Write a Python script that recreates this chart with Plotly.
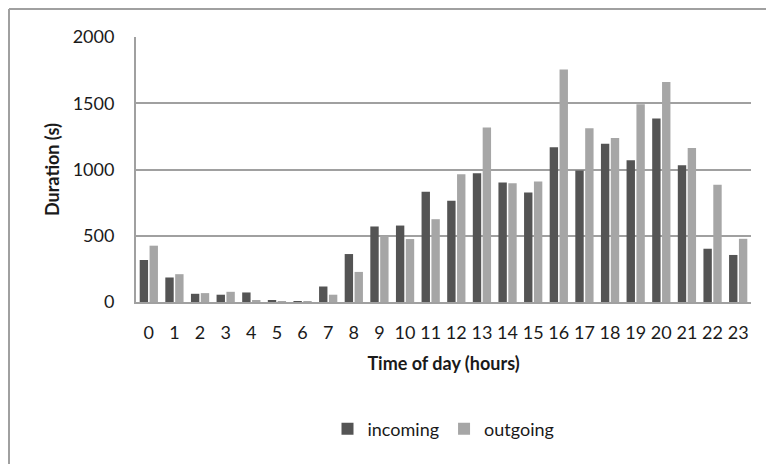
import plotly.graph_objects as go

hours = [str(h) for h in range(24)]
incoming = [317, 185, 62, 55, 72, 10, 7, 117, 362, 570, 577, 832, 765, 972, 902, 827,
            1167, 992, 1195, 1070, 1385, 1032, 402, 355]
outgoing = [425, 210, 67, 77, 15, 7, 5, 55, 227, 497, 475, 625, 965, 1317, 897, 910,
            1755, 1312, 1237, 1492, 1660, 1162, 885, 477]
y_ticks = [0, 500, 1000, 1500, 2000]

FONT = "Lato"

fig = go.Figure()
fig.add_trace(go.Bar(x=hours, y=incoming, name="incoming",
                     marker=dict(color="#545454", line=dict(width=0))))
fig.add_trace(go.Bar(x=hours, y=outgoing, name="outgoing",
                     marker=dict(color="#a6a6a6", line=dict(width=0))))

fig.update_layout(
    width=766, height=464, autosize=False,
    margin=dict(l=136, r=15, t=37, b=162),
    paper_bgcolor="white", plot_bgcolor="white",
    barmode="group", bargap=0.23, bargroupgap=0.15,
    font=dict(family=FONT, size=18, color="#1a1a1a"),
    showlegend=True,
    legend=dict(orientation="h", x=0.50, xanchor="center", y=-0.479, yanchor="middle",
                font=dict(family=FONT, size=18, color="#1a1a1a"),
                traceorder="normal", itemsizing="constant"),
    xaxis=dict(
        type="category", showgrid=False, showline=True, linecolor="#a0a0a0", linewidth=2,
        ticks="", ticklabelstandoff=13, tickfont=dict(family=FONT, size=18),
        title=dict(text="<b>Time of day (hours)</b>", font=dict(family=FONT, size=18), standoff=16),
    ),
    yaxis=dict(
        range=[0, 2000], tickvals=y_ticks, showgrid=True, gridcolor="#a0a0a0", gridwidth=2,
        showline=True, linecolor="#a0a0a0", linewidth=2, zeroline=False,
        ticks="", ticklabelstandoff=16, tickfont=dict(family=FONT, size=18),
        title=dict(text="<b>Duration (s)</b>", font=dict(family=FONT, size=18), standoff=8),
    ),
    shapes=[
        dict(type="line", xref="paper", yref="paper", x0=-0.2065, x1=1.2, y0=1.1057, y1=1.1057,
             line=dict(color="#a0a0a0", width=2)),
        dict(type="line", xref="paper", yref="paper", x0=-0.2065, x1=-0.2065, y0=1.1057, y1=-0.7,
             line=dict(color="#a0a0a0", width=2)),
    ],
)

fig.write_html("out.html")
